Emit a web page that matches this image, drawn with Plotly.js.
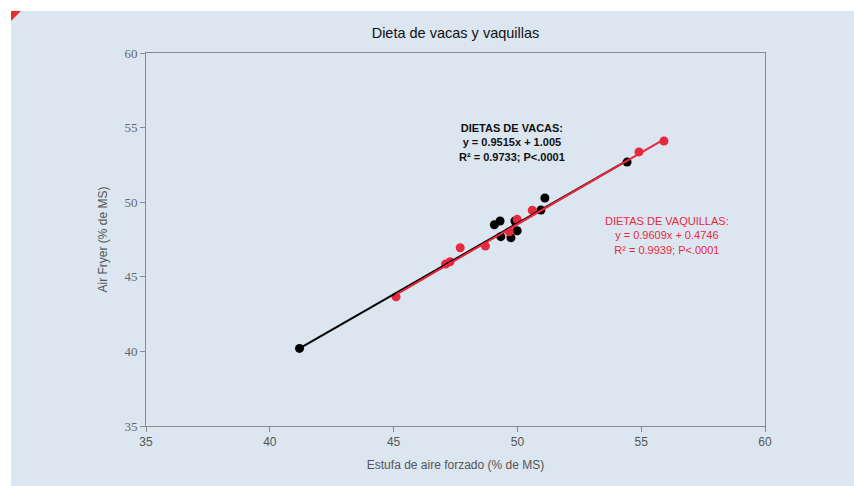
<!DOCTYPE html>
<html>
<head>
<meta charset="utf-8">
<script src="https://cdn.plot.ly/plotly-3.0.1.min.js"></script>
<style>
  html, body { margin: 0; padding: 0; background: #ffffff; width: 854px; height: 486px; overflow: hidden; }
  #panel { position: absolute; left: 11px; top: 11px; width: 843px; height: 475px; }
  #tri { position: absolute; left: 11px; top: 11px; width: 0; height: 0;
         border-top: 10px solid #e8302a; border-right: 10px solid transparent; z-index: 5; }
</style>
</head>
<body>
<div id="panel"></div>
<div id="tri"></div>
<script>
// Dietas de vacas (black)
const vacasX = [41.2, 49.07, 49.30, 49.33, 49.74, 49.99, 49.90, 50.95, 51.11, 54.43];
const vacasY = [40.2, 48.49, 48.74, 47.69, 47.62, 48.09, 48.74, 49.48, 50.28, 52.69];
// Dietas de vaquillas (red)
const vaqX = [45.10, 47.10, 47.28, 47.69, 48.71, 49.67, 49.99, 50.60, 54.91, 55.92];
const vaqY = [43.65, 45.86, 46.01, 46.95, 47.06, 48.02, 48.85, 49.46, 53.37, 54.10];
// Regression coefficients [slope, intercept]
const vacasFit = [0.9515, 1.005];
const vaqFit = [0.9609, 0.4746];
const tickVals = [35, 40, 45, 50, 55, 60];

function fitLine(xs, fit) {
  const x0 = Math.min(...xs), x1 = Math.max(...xs);
  return { x: [x0, x1], y: [fit[0] * x0 + fit[1], fit[0] * x1 + fit[1]] };
}
const lv = fitLine(vacasX, vacasFit);
const lq = fitLine(vaqX, vaqFit);

const black = '#000000';
const red = '#e8283c';

const traces = [
  { x: vacasX, y: vacasY, type: 'scatter', mode: 'markers', name: 'Vacas',
    marker: { color: black, size: 9 } },
  { x: vaqX, y: vaqY, type: 'scatter', mode: 'markers', name: 'Vaquillas',
    marker: { color: red, size: 9 } },
  { x: lv.x, y: lv.y, type: 'scatter', mode: 'lines', name: 'Ajuste vacas',
    line: { color: black, width: 2 } },
  { x: lq.x, y: lq.y, type: 'scatter', mode: 'lines', name: 'Ajuste vaquillas',
    line: { color: red, width: 2 } }
];

const axisCommon = {
  range: [35, 60], tickvals: tickVals, ticktext: tickVals.map(String),
  showgrid: false, zeroline: false, showline: true, linecolor: '#8a8a8a', linewidth: 1,
  mirror: true, ticks: 'outside', ticklen: 5, tickcolor: '#8a8a8a', tickwidth: 1
};

const layout = {
  width: 843, height: 475,
  paper_bgcolor: '#dce6f0', plot_bgcolor: '#dce6f0',
  margin: { l: 135, r: 89, t: 42, b: 60 },
  showlegend: false,
  font: { family: 'Liberation Sans, Arial, sans-serif', color: '#444' },
  title: { text: 'Dieta de vacas y vaquillas', font: { size: 14.5, color: '#111', family: 'Liberation Sans, Arial, sans-serif' },
           xref: 'paper', x: 0.5, xanchor: 'center', yref: 'container', y: 0.954, yanchor: 'middle' },
  xaxis: Object.assign({}, axisCommon, {
    tickfont: { family: 'Liberation Sans Narrow, Liberation Sans, sans-serif', size: 12, color: '#555' },
    title: { text: 'Estufa de aire forzado (% de MS)', standoff: 12,
             font: { family: 'Liberation Sans Narrow, Liberation Sans, sans-serif', size: 12, color: '#555' } }
  }),
  yaxis: Object.assign({}, axisCommon, {
    tickfont: { family: '"Liberation Serif", "DejaVu Serif", serif', size: 13, color: '#666' },
    title: { text: 'Air Fryer (% de MS)', standoff: 14,
             font: { family: 'Liberation Sans Narrow, Liberation Sans, sans-serif', size: 12, color: '#555' } }
  }),
  annotations: [
    { x: 49.77, y: 54.0, xref: 'x', yref: 'y', showarrow: false, align: 'center',
      text: '<b>DIETAS DE VACAS:<br>y = 0.9515x + 1.005<br>R² = 0.9733; P<.0001</b>',
      font: { family: 'Liberation Sans, Arial, sans-serif', size: 11, color: '#111' } },
    { x: 56.03, y: 47.8, xref: 'x', yref: 'y', showarrow: false, align: 'center',
      text: 'DIETAS DE VAQUILLAS:<br>y = 0.9609x + 0.4746<br>R² = 0.9939; P<.0001',
      font: { family: 'Liberation Sans, Arial, sans-serif', size: 11, color: red } }
  ]
};

Plotly.newPlot('panel', traces, layout, { displayModeBar: false, staticPlot: true });
</script>
</body>
</html>
